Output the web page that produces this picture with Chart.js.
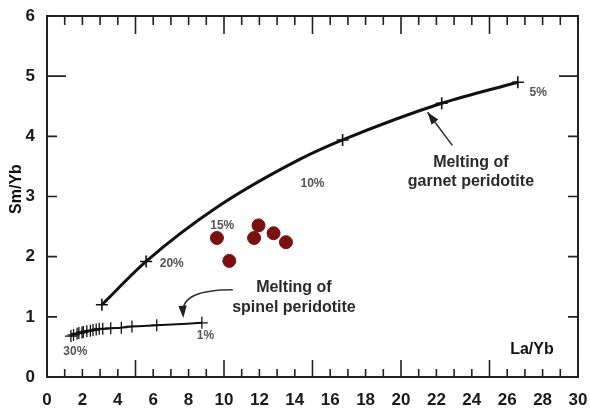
<!DOCTYPE html>
<html>
<head>
<meta charset="utf-8">
<script src="https://cdn.jsdelivr.net/npm/chart.js@4"></script>
<style>
  html, body { margin: 0; padding: 0; background: #fff; }
  #wrap { width: 590px; height: 409px; }
</style>
</head>
<body>
<div id="wrap"><canvas id="melting-chart"></canvas></div>
<script>
// garnet peridotite melting curve (La/Yb vs Sm/Yb)
const garnetLa = [3.1, 5.6, 9.6, 14.3, 16.7, 22.3, 26.6];
const garnetSm = [1.2, 1.92, 2.82, 3.62, 3.94, 4.55, 4.9];
const garnetMarks = [1, 1, 0, 0, 1, 1, 1];

// spinel peridotite melting curve
const spinelLa = [1.35, 1.5, 1.7, 1.8, 1.98, 2.05, 2.25, 2.45, 2.6, 2.78, 2.95, 3.15, 3.6, 4.2, 4.8, 6.2, 8.75];
const spinelSm = [0.68, 0.7, 0.72, 0.73, 0.74, 0.75, 0.76, 0.77, 0.78, 0.79, 0.8, 0.8, 0.81, 0.82, 0.84, 0.86, 0.9];

// samples
const sampleLa = [9.6, 10.3, 11.95, 11.7, 12.8, 13.5];
const sampleSm = [2.31, 1.93, 2.52, 2.31, 2.39, 2.24];

const xTicks = [0, 2, 4, 6, 8, 10, 12, 14, 16, 18, 20, 22, 24, 26, 28, 30];
const yTicks = [0, 1, 2, 3, 4, 5, 6];

// percent labels along the curves
const pctText = ['5%', '10%', '15%', '20%', '1%', '30%'];
const pctX = [27.75, 15.0, 9.9, 7.05, 8.95, 1.6];
const pctY = [4.73, 3.22, 2.51, 1.89, 0.68, 0.42];

const FONT = "'Liberation Sans', Arial, sans-serif";

const pts = (xs, ys) => xs.map((x, i) => ({ x: x, y: ys[i] }));

const decor = {
    id: 'decor',
    afterDraw(chart) {
        const ctx = chart.ctx;
        const a = chart.chartArea;
        const sx = chart.scales.x, sy = chart.scales.y;
        const X = v => sx.getPixelForValue(v);
        const Y = v => sy.getPixelForValue(v);
        ctx.save();

        // frame
        ctx.strokeStyle = '#222';
        ctx.lineWidth = 2;
        ctx.strokeRect(a.left, a.top, a.right - a.left, a.bottom - a.top);

        // inward ticks
        ctx.lineWidth = 1.6;
        ctx.beginPath();
        for (let v = 0; v <= 30; v++) {
            const len = v % 5 === 0 ? 17 : 8;
            const px = X(v);
            ctx.moveTo(px, a.bottom); ctx.lineTo(px, a.bottom - len);
            ctx.moveTo(px, a.top); ctx.lineTo(px, a.top + len + 1);
        }
        for (let v = 0; v <= 6; v++) {
            const len = v % 5 === 0 ? 19 : 10;
            const py = Y(v);
            ctx.moveTo(a.left, py); ctx.lineTo(a.left + len, py);
            ctx.moveTo(a.right, py); ctx.lineTo(a.right - len, py);
        }
        ctx.stroke();

        // percent labels
        ctx.fillStyle = '#555';
        ctx.font = 'bold 12px ' + FONT;
        ctx.textAlign = 'center';
        ctx.textBaseline = 'middle';
        pctText.forEach((t, i) => ctx.fillText(t, X(pctX[i]), Y(pctY[i])));

        // curve labels
        ctx.fillStyle = '#2a2a2a';
        ctx.font = 'bold 16px ' + FONT;
        ctx.fillText('Melting of', X(23.95), Y(3.57));
        ctx.fillText('garnet peridotite', X(23.95), Y(3.24));
        ctx.fillText('Melting of', X(13.95), Y(1.48));
        ctx.fillText('spinel peridotite', X(13.95), Y(1.15));

        // axis titles
        ctx.fillStyle = '#111';
        ctx.fillText('La/Yb', X(27.4), Y(0.45));
        ctx.save();
        ctx.translate(17, 189);
        ctx.rotate(-Math.PI / 2);
        ctx.fillText('Sm/Yb', 0, 0);
        ctx.restore();

        // arrows
        ctx.strokeStyle = '#333';
        ctx.fillStyle = '#222';
        ctx.lineWidth = 1.6;
        const head = (tx, ty, ang) => {
            ctx.beginPath();
            ctx.moveTo(tx, ty);
            ctx.lineTo(tx - 13 * Math.cos(ang - 0.33), ty - 13 * Math.sin(ang - 0.33));
            ctx.lineTo(tx - 13 * Math.cos(ang + 0.33), ty - 13 * Math.sin(ang + 0.33));
            ctx.closePath();
            ctx.fill();
        };
        const gx0 = X(22.9), gy0 = Y(3.85), gx1 = X(21.5), gy1 = Y(4.4);
        ctx.beginPath();
        ctx.moveTo(gx0, gy0); ctx.lineTo(gx1, gy1);
        ctx.stroke();
        head(gx1, gy1, Math.atan2(gy1 - gy0, gx1 - gx0));

        const sx0 = X(10.5), sy0 = Y(1.45), cx = X(7.6), cy = Y(1.45), sx1 = X(7.7), sy1 = Y(0.98);
        ctx.beginPath();
        ctx.moveTo(sx0, sy0); ctx.quadraticCurveTo(cx, cy, sx1, sy1 - 6);
        ctx.stroke();
        head(sx1, sy1, Math.atan2(sy1 - cy, sx1 - cx));

        ctx.restore();
    }
};

new Chart(document.getElementById('melting-chart'), {
    type: 'scatter',
    data: {
        datasets: [
            {
                label: 'Garnet peridotite',
                data: pts(garnetLa, garnetSm),
                showLine: true,
                cubicInterpolationMode: 'monotone',
                borderColor: '#111',
                borderWidth: 3,
                pointStyle: 'cross',
                pointRadius: garnetMarks.map(m => m ? 6 : 0),
                pointBorderColor: '#111',
                pointBorderWidth: 1.6
            },
            {
                label: 'Spinel peridotite',
                data: pts(spinelLa, spinelSm),
                showLine: true,
                cubicInterpolationMode: 'monotone',
                borderColor: '#111',
                borderWidth: 2,
                pointStyle: 'cross',
                pointRadius: 6,
                pointBorderColor: '#111',
                pointBorderWidth: 1.3
            },
            {
                label: 'Samples',
                data: pts(sampleLa, sampleSm),
                backgroundColor: '#7a1010',
                borderColor: '#7a1010',
                pointRadius: 6.5
            }
        ]
    },
    options: {
        responsive: true,
        maintainAspectRatio: false,
        animation: false,
        layout: { padding: { left: 0, right: 12, top: 16, bottom: 0 } },
        plugins: {
            legend: { display: false },
            tooltip: { enabled: false }
        },
        scales: {
            x: {
                type: 'linear',
                min: 0,
                max: 30,
                afterFit: s => {
                    s.height = 32;
                    s.paddingLeft = 0; s.paddingRight = 0;
                },
                afterBuildTicks: s => { s.ticks = xTicks.map(v => ({ value: v })); },
                grid: { display: false, drawTicks: false },
                border: { display: false },
                ticks: {
                    padding: 13,
                    color: '#1a1a1a',
                    font: { family: FONT, size: 17, weight: 'bold' },
                    maxRotation: 0,
                    autoSkip: false
                }
            },
            y: {
                min: 0,
                max: 6,
                afterFit: s => {
                    s.width = 47;
                    s.paddingTop = 0; s.paddingBottom = 0;
                },
                afterBuildTicks: s => { s.ticks = yTicks.map(v => ({ value: v })); },
                grid: { display: false, drawTicks: false },
                border: { display: false },
                ticks: {
                    padding: 12,
                    color: '#1a1a1a',
                    font: { family: FONT, size: 17, weight: 'bold' }
                }
            }
        }
    },
    plugins: [decor]
});
</script>
</body>
</html>
